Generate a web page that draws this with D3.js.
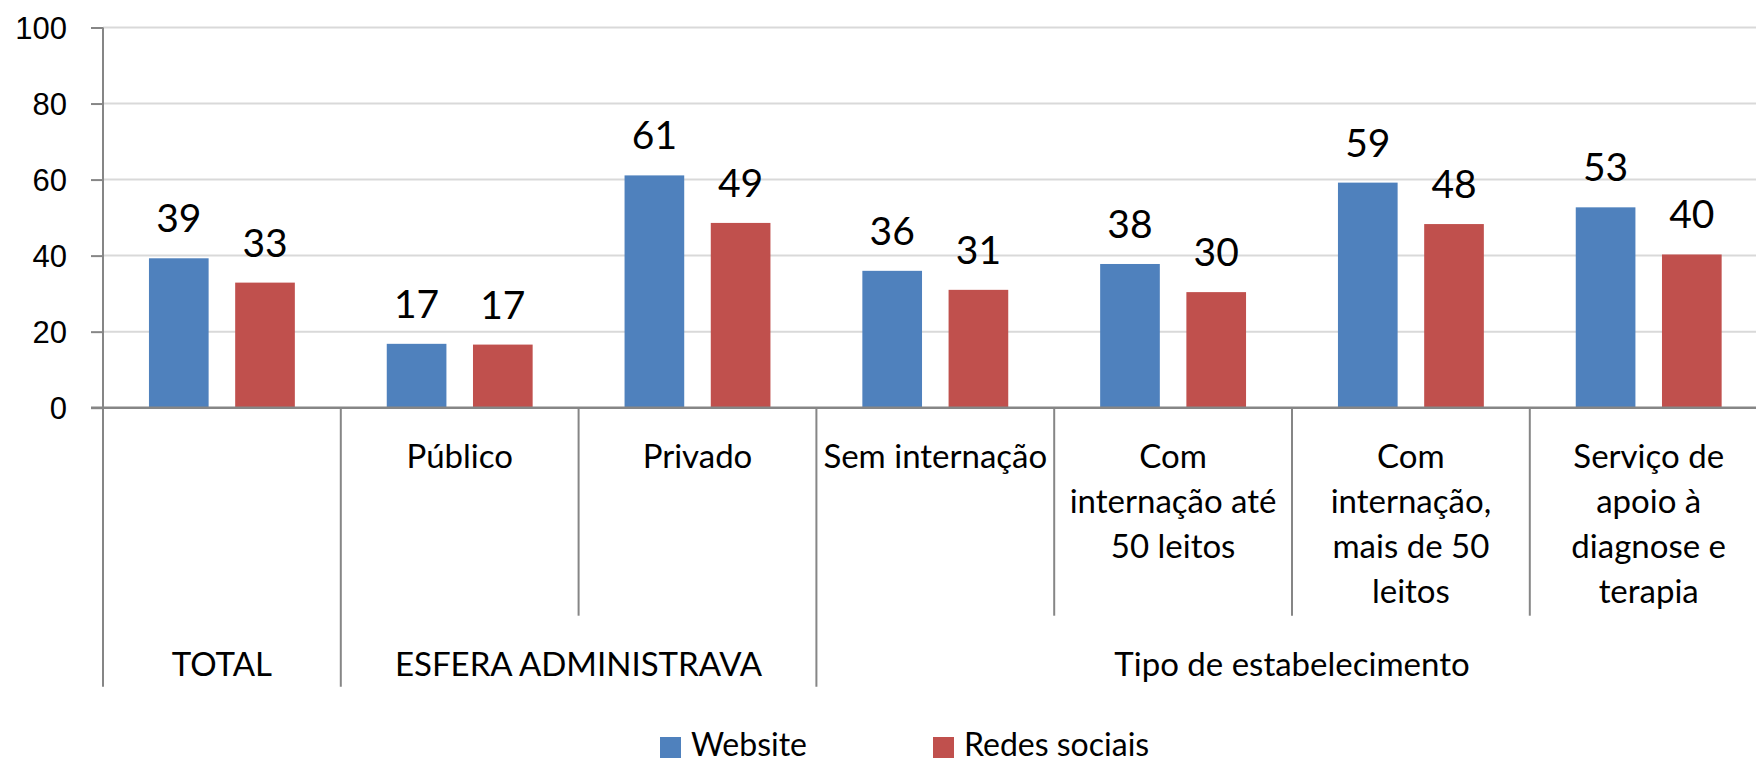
<!DOCTYPE html>
<html>
<head>
<meta charset="utf-8">
<script src="https://cdn.jsdelivr.net/npm/d3@7"></script>
<style>
    body { margin: 0; background: #fff; }
    svg { display: block; font-family: Lato, "Open Sans", sans-serif; }
</style>
</head>
<body>
<svg id="chart" width="1756" height="764"></svg>
<script>
// categories (sub level), with line breaks as wrapped in the original
let categories = ["TOTAL_", "Público", "Privado", "Sem internação",
    "Com\ninternação até\n50 leitos", "Com\ninternação,\nmais de 50\nleitos",
    "Serviço de\napoio à\ndiagnose e\nterapia"];
let groupNames = ["TOTAL", "ESFERA ADMINISTRAVA", "Tipo de estabelecimento"];
let groupSpans = [1, 2, 4];

let seriesNames = ["Website", "Redes sociais"];
let seriesColors = ["#4F81BD", "#C0504D"];
let websiteValues = [39.3, 16.8, 61.1, 36.0, 37.8, 59.2, 52.7];
let redesValues = [32.9, 16.6, 48.6, 31.0, 30.4, 48.3, 40.3];
let yTicks = [0, 20, 40, 60, 80, 100];

(function () {
    'use strict';

    let svg = d3.select("#chart");
    let left = 103, top = 27.5, bottom = 407.7, catW = 237.8;

    let x = d3.scaleBand()
        .domain(categories)
        .range([left, left + catW * categories.length]);
    let xs = d3.scaleBand()
        .domain(seriesNames)
        .range([0, catW])
        .paddingInner(0.308)
        .paddingOuter(0.533);
    let y = d3.scaleLinear().domain([0, 100]).range([bottom, top]);

    // gridlines
    svg.append("g")
        .selectAll("line")
        .data(yTicks.filter(d => d > 0))
        .enter().append("line")
        .attr("x1", left).attr("x2", 1756)
        .attr("y1", d => y(d)).attr("y2", d => y(d))
        .attr("stroke", "#d9d9d9").attr("stroke-width", 2);

    // y axis
    let yAxis = svg.append("g")
        .attr("transform", "translate(" + left + ",0)")
        .call(d3.axisLeft(y).tickValues(yTicks).tickSize(12).tickPadding(24));
    yAxis.select(".domain").remove();
    yAxis.selectAll(".tick line").attr("stroke", "#868686").attr("stroke-width", 2);
    yAxis.selectAll(".tick text")
        .attr("fill", "#000")
        .style("font-size", "31px")
        .attr("dy", "0.36em");

    // bars
    let rows = categories.map((c, i) => ({cat: c, values: [websiteValues[i], redesValues[i]]}));
    let cat = svg.selectAll(".cat")
        .data(rows)
        .enter().append("g")
        .attr("class", "cat")
        .attr("transform", d => "translate(" + x(d.cat) + ",0)");

    cat.selectAll("rect")
        .data(d => d.values.map((v, j) => ({s: seriesNames[j], v: v, j: j})))
        .enter().append("rect")
        .attr("x", d => xs(d.s))
        .attr("width", xs.bandwidth())
        .attr("y", d => y(d.v))
        .attr("height", d => bottom - y(d.v))
        .attr("fill", d => seriesColors[d.j]);

    cat.selectAll(".lbl")
        .data(d => d.values.map((v, j) => ({s: seriesNames[j], v: v})))
        .enter().append("text")
        .attr("class", "lbl")
        .attr("x", d => xs(d.s) + xs.bandwidth() / 2)
        .attr("y", d => y(d.v) - 26)
        .attr("text-anchor", "middle")
        .style("font-size", "39px")
        .text(d => Math.round(d.v));

    // vertical axis line and x axis line
    svg.append("line")
        .attr("x1", left).attr("x2", left)
        .attr("y1", top).attr("y2", 686.7)
        .attr("stroke", "#868686").attr("stroke-width", 2);
    svg.append("line")
        .attr("x1", left - 12).attr("x2", 1756)
        .attr("y1", bottom).attr("y2", bottom)
        .attr("stroke", "#868686").attr("stroke-width", 2.5);

    // category separators
    let groupEnds = d3.cumsum(groupSpans);
    categories.forEach((c, i) => {
        if (i === 0) return;
        let isGroup = groupEnds.indexOf(i) !== -1;
        svg.append("line")
            .attr("x1", x(c)).attr("x2", x(c))
            .attr("y1", bottom).attr("y2", isGroup ? 686.7 : 615.7)
            .attr("stroke", "#868686").attr("stroke-width", 2);
    });

    // category labels (skip TOTAL which has no sub level)
    categories.forEach((c, i) => {
        if (i === 0) return;
        let t = svg.append("text")
            .attr("text-anchor", "middle")
            .style("font-size", "33px");
        c.split("\n").forEach((line, k) => {
            t.append("tspan")
                .attr("x", x(c) + x.bandwidth() / 2)
                .attr("y", 468 + k * 45)
                .text(line);
        });
    });

    // group labels
    let start = 0;
    groupNames.forEach((g, i) => {
        let x0 = x(categories[start]);
        let x1 = x0 + x.bandwidth() * groupSpans[i];
        svg.append("text")
            .attr("x", (x0 + x1) / 2)
            .attr("y", 676)
            .attr("text-anchor", "middle")
            .style("font-size", "33px")
            .text(g);
        start += groupSpans[i];
    });

    // legend
    let legendX = [660, 933];
    let legend = svg.selectAll(".legend")
        .data(seriesNames)
        .enter().append("g")
        .attr("class", "legend")
        .attr("transform", (d, i) => "translate(" + legendX[i] + ",737)");
    legend.append("rect")
        .attr("width", 21).attr("height", 21)
        .attr("fill", (d, i) => seriesColors[i]);
    legend.append("text")
        .attr("x", 31).attr("y", 19)
        .style("font-size", "32px")
        .text(d => d);
}());
</script>
</body>
</html>
